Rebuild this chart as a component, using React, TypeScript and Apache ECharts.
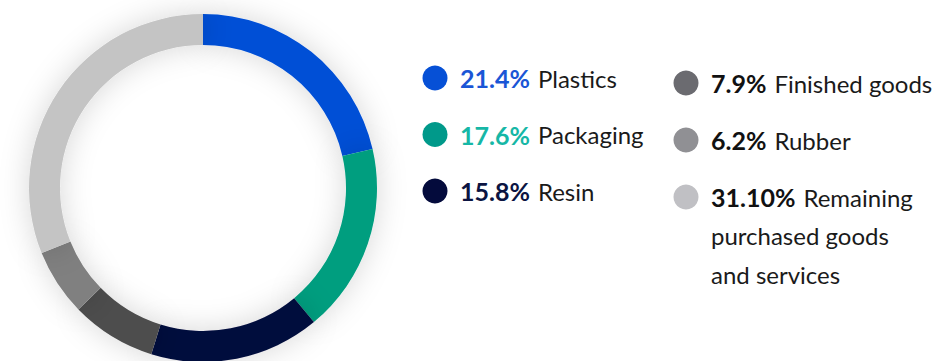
import React, { useEffect, useRef } from "react";
import * as echarts from "echarts";

const categories = ["Plastics", "Packaging", "Resin", "Finished goods", "Rubber", "Remaining purchased goods and services"];
const values = [21.4, 17.6, 15.8, 7.9, 6.2, 31.1];
const pctLabels = ["21.4%", "17.6%", "15.8%", "7.9%", "6.2%", "31.10%"];
const legendNames = ["Plastics", "Packaging", "Resin", "Finished goods", "Rubber", "Remaining\npurchased goods\nand services"];
const ringColors = ["#0650d6", "#009e7f", "#040b3c", "#4d4d4d", "#808080", "#c4c4c4"];
const dotColors = ["#0650d6", "#00998a", "#040b3c", "#6b6b70", "#909094", "#c0c0c4"];
const pctColors = ["#1a56d6", "#16b7a6", "#0b1442", "#111111", "#111111", "#111111"];

const FONT = "Lato, 'Noto Sans', sans-serif";

export default function App() {
  const ref = useRef<HTMLDivElement>(null);
  useEffect(() => {
    const chart = echarts.init(ref.current!, null, { renderer: "svg" });
    const graphics: any[] = [];
    categories.forEach((_, i) => {
      const col = i < 3 ? 0 : 1;
      const row = i % 3;
      const dx = col === 0 ? 435 : 686;
      const dy = col === 0 ? 78 + row * 56.5 : 83 + row * 57;
      const lines = legendNames[i].split("\n");
      const txt =
        `{p|${pctLabels[i]}}{n1|${lines[0]}}` + lines.slice(1).map((l) => `\n{n|${l}}`).join("");
      graphics.push({
        type: "circle",
        shape: { cx: dx, cy: dy, r: 12.5 },
        style: { fill: dotColors[i] },
      });
      graphics.push({
        type: "text",
        x: dx + 25,
        y: dy - 19,
        style: {
          text: txt,
          rich: {
            p: { fontFamily: FONT, fontSize: 25, fontWeight: "bold", fill: pctColors[i], lineHeight: 38.5 },
            n1: { fontFamily: FONT, fontSize: 24, fill: "#1a1a1a", lineHeight: 38.5, padding: [0, 0, 0, 8] },
            n: { fontFamily: FONT, fontSize: 24, fill: "#1a1a1a", lineHeight: 38.5 },
          },
          verticalAlign: "top",
          align: "left",
        },
      });
    });
    chart.setOption({
      animation: false,
      backgroundColor: "#ffffff",
      series: [
        {
          type: "pie",
          center: [203, 188],
          radius: [143, 174],
          startAngle: 90,
          clockwise: true,
          label: { show: false },
          labelLine: { show: false },
          emphasis: { disabled: true },
          itemStyle: { shadowBlur: 30, shadowColor: "rgba(0,0,0,0.16)", borderWidth: 0 },
          data: categories.map((c, i) => ({ name: c, value: values[i], itemStyle: { color: ringColors[i] } })),
        },
      ],
      graphic: graphics,
    });
    return () => chart.dispose();
  }, []);
  return <div ref={ref} style={{ width: 935, height: 361, position: "absolute", left: 0, top: 0 }} />;
}
